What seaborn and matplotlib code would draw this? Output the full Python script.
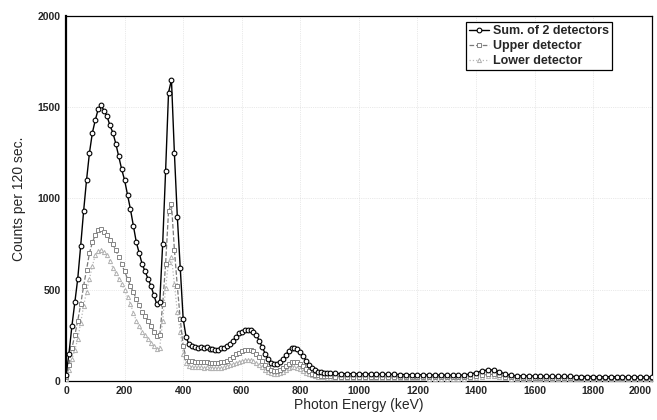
import numpy as np
import pandas as pd
import matplotlib
matplotlib.use("Agg")
import matplotlib.pyplot as plt
import seaborn as sns

# Energy bins (keV): 10 keV steps up to 900, 20 keV steps above
energy = list(range(0, 901, 10)) + list(range(920, 2001, 20))

sum_counts = [
    30, 150, 300, 430, 560, 740, 930, 1100, 1250, 1360,          # 0-90
    1430, 1490, 1510, 1480, 1450, 1400, 1360, 1300, 1230, 1160,  # 100-190
    1100, 1020, 940, 850, 760, 700, 640, 600, 560, 520,          # 200-290
    470, 420, 430, 750, 1150, 1580, 1650, 1250, 900, 620,        # 300-390
    340, 240, 200, 190, 185, 180, 185, 180, 185, 175,            # 400-490
    175, 170, 170, 180, 180, 190, 200, 220, 240, 260,            # 500-590
    270, 278, 280, 278, 270, 250, 220, 185, 150, 120,            # 600-690
    100, 95, 95, 105, 120, 140, 165, 178, 180, 175,              # 700-790
    160, 135, 110, 88, 70, 58, 50, 47, 45, 43,                   # 800-890
    42,                                                          # 900
    41, 40, 40, 39, 39, 38, 38, 37, 37, 36,                      # 920-1100
    36, 35, 35, 34, 34, 33, 33, 32, 32, 32,                      # 1120-1300
    31, 31, 33, 38, 45, 55, 60, 60, 50, 38,                      # 1320-1500
    30, 28, 28, 27, 27, 26, 26, 26, 25, 25,                      # 1520-1700
    25, 24, 24, 24, 24, 23, 23, 23, 23, 22,                      # 1720-1900
    22, 22, 22, 22, 22]                                          # 1920-2000

upper_counts = [
    20, 90, 180, 250, 330, 420, 520, 610, 700, 760,
    800, 825, 830, 815, 800, 775, 750, 715, 680, 640,
    600, 560, 520, 485, 450, 415, 380, 355, 330, 300,
    270, 245, 250, 420, 640, 930, 970, 720, 520, 340,
    190, 130, 110, 108, 105, 102, 105, 102, 105, 100,
    100, 98, 98, 103, 105, 112, 120, 132, 145, 155,
    165, 168, 170, 168, 165, 150, 130, 110, 90, 72,
    60, 56, 55, 62, 70, 82, 95, 102, 105, 102,
    95, 80, 65, 52, 40, 34, 30, 28, 26, 25,
    25,
    24, 24, 24, 23, 23, 23, 23, 22, 22, 22,
    22, 22, 21, 21, 21, 21, 20, 20, 20, 20,
    19, 19, 20, 23, 27, 32, 36, 36, 30, 23,
    19, 17, 17, 17, 16, 16, 16, 16, 15, 15,
    15, 15, 15, 15, 15, 14, 14, 14, 14, 14,
    14, 14, 14, 14, 14]

lower_counts = [
    10, 60, 120, 170, 230, 320, 410, 490, 560, 630,
    690, 710, 720, 705, 690, 655, 620, 590, 560, 530,
    500, 460, 420, 375, 330, 300, 270, 250, 230, 210,
    190, 175, 180, 330, 510, 650, 680, 530, 380, 270,
    150, 100, 80, 78, 75, 74, 75, 73, 75, 72,
    72, 70, 70, 73, 75, 80, 85, 92, 100, 105,
    110, 113, 115, 113, 110, 100, 90, 75, 60, 48,
    42, 40, 40, 44, 50, 60, 70, 74, 75, 72,
    65, 55, 45, 36, 30, 25, 22, 20, 19, 18,
    18,
    17, 17, 17, 16, 16, 16, 16, 15, 15, 15,
    15, 15, 14, 14, 14, 14, 13, 13, 13, 13,
    13, 13, 13, 15, 18, 22, 25, 25, 20, 15,
    12, 11, 11, 11, 11, 10, 10, 10, 10, 10,
    10, 10, 10, 9, 9, 9, 9, 9, 9, 9,
    9, 8, 8, 8, 8]

series_labels = ["Sum. of 2 detectors", "Upper detector", "Lower detector"]
x_ticks = list(range(0, 2001, 200))
y_ticks = [0, 500, 1000, 1500, 2000]

sns.set_theme(style="white")
plt.rcParams['font.family'] = ['Liberation Sans', 'DejaVu Sans']

df = pd.DataFrame({"energy": energy, "sum": sum_counts,
                   "upper": upper_counts, "lower": lower_counts})

fig = plt.figure(figsize=(6.57, 4.2), dpi=100)
ax = fig.add_axes([0.1005, 0.093, 0.8915, 0.869])

sns.lineplot(data=df, x="energy", y="lower", ax=ax, color="#b8b8b8",
             linestyle=":", linewidth=0.9, marker="^", markersize=3.0,
             markerfacecolor="white", markeredgecolor="#b0b0b0",
             markeredgewidth=0.7, label=series_labels[2], zorder=3)
sns.lineplot(data=df, x="energy", y="upper", ax=ax, color="#7a7a7a",
             linestyle="--", linewidth=0.9, marker="s", markersize=2.8,
             markerfacecolor="white", markeredgecolor="#858585",
             markeredgewidth=0.7, label=series_labels[1], zorder=4)
sns.lineplot(data=df, x="energy", y="sum", ax=ax, color="black",
             linewidth=1.0, marker="o", markersize=3.4,
             markerfacecolor="white", markeredgecolor="black",
             markeredgewidth=0.8, label=series_labels[0], zorder=5)

ax.set_xlim(0, 2000)
ax.set_ylim(0, 2000)
ax.set_xticks(x_ticks)
ax.set_yticks(y_ticks)
ax.tick_params(axis="both", labelsize=7.5, length=0, pad=4)
for lab in ax.get_xticklabels() + ax.get_yticklabels():
    lab.set_fontweight("bold")
ax.get_xticklabels()[-1].set_horizontalalignment("right")

ax.grid(True, linestyle=":", color="#c4c4c4", linewidth=0.5, alpha=0.7)
for s in ax.spines.values():
    s.set_visible(True)
    s.set_color("black")
    s.set_linewidth(0.9)
ax.spines["left"].set_linewidth(1.6)

ax.set_xlabel("Photon Energy (keV)", fontsize=10, labelpad=1)
ax.set_ylabel("Counts per 120 sec.", fontsize=10, labelpad=8)

handles, labels = ax.get_legend_handles_labels()
order = [labels.index(l) for l in series_labels]
leg = ax.legend([handles[i] for i in order], [labels[i] for i in order],
                loc="upper right", bbox_to_anchor=(0.932, 0.984),
                borderaxespad=0, frameon=True, fancybox=False,
                edgecolor="black", framealpha=1,
                handlelength=1.6, handletextpad=0.3, borderpad=0.25,
                labelspacing=0.25, prop={"weight": "bold", "size": 9})
leg.get_frame().set_linewidth(0.9)

fig.savefig("out.png", dpi=100)
